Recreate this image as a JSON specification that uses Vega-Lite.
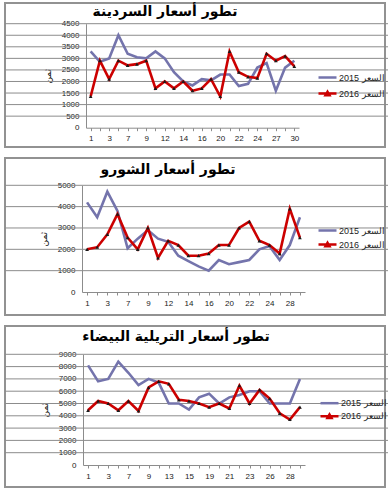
{
  "$schema": "https://vega.github.io/schema/vega-lite/v6.json",
  "padding": {"left": 3, "top": 2, "right": 3, "bottom": 3},
  "background": "white",
  "spacing": 11,
  "bounds": "flush",
  "datasets": {
    "sardine": [
      {"d":"1","s":"2015","p":3300},{"d":"2","s":"2015","p":2850},{"d":"3","s":"2015","p":3000},{"d":"6","s":"2015","p":4000},{"d":"7","s":"2015","p":3200},{"d":"8","s":"2015","p":3050},{"d":"9","s":"2015","p":3000},{"d":"10","s":"2015","p":3300},{"d":"12","s":"2015","p":3000},{"d":"13","s":"2015","p":2400},{"d":"14","s":"2015","p":2000},{"d":"15","s":"2015","p":1830},{"d":"16","s":"2015","p":2100},{"d":"17","s":"2015","p":2050},{"d":"20","s":"2015","p":2300},{"d":"21","s":"2015","p":2300},{"d":"22","s":"2015","p":1800},{"d":"23","s":"2015","p":1900},{"d":"24","s":"2015","p":2600},{"d":"26","s":"2015","p":2800},{"d":"27","s":"2015","p":1600},{"d":"29","s":"2015","p":2600},{"d":"30","s":"2015","p":2900},
      {"d":"1","s":"2016","p":1350},{"d":"2","s":"2016","p":2900},{"d":"3","s":"2016","p":2100},{"d":"6","s":"2016","p":2900},{"d":"7","s":"2016","p":2700},{"d":"8","s":"2016","p":2750},{"d":"9","s":"2016","p":2900},{"d":"10","s":"2016","p":1700},{"d":"12","s":"2016","p":2000},{"d":"13","s":"2016","p":1700},{"d":"14","s":"2016","p":2000},{"d":"15","s":"2016","p":1600},{"d":"16","s":"2016","p":1700},{"d":"17","s":"2016","p":2100},{"d":"20","s":"2016","p":1350},{"d":"21","s":"2016","p":3300},{"d":"22","s":"2016","p":2400},{"d":"23","s":"2016","p":2200},{"d":"24","s":"2016","p":2150},{"d":"26","s":"2016","p":3200},{"d":"27","s":"2016","p":2900},{"d":"29","s":"2016","p":3100},{"d":"30","s":"2016","p":2650}
    ],
    "chourou": [
      {"d":"1","s":"2015","p":4200},{"d":"2","s":"2015","p":3500},{"d":"3","s":"2015","p":4700},{"d":"6","s":"2015","p":3800},{"d":"7","s":"2015","p":2050},{"d":"8","s":"2015","p":2500},{"d":"9","s":"2015","p":2900},{"d":"10","s":"2015","p":2500},{"d":"12","s":"2015","p":2350},{"d":"13","s":"2015","p":1700},{"d":"14","s":"2015","p":1450},{"d":"15","s":"2015","p":1200},{"d":"16","s":"2015","p":1000},{"d":"17","s":"2015","p":1500},{"d":"20","s":"2015","p":1300},{"d":"21","s":"2015","p":1400},{"d":"22","s":"2015","p":1500},{"d":"23","s":"2015","p":2000},{"d":"24","s":"2015","p":2150},{"d":"26","s":"2015","p":1500},{"d":"28","s":"2015","p":2200},{"d":"29","s":"2015","p":3500},
      {"d":"1","s":"2016","p":2000},{"d":"2","s":"2016","p":2100},{"d":"3","s":"2016","p":2700},{"d":"6","s":"2016","p":3650},{"d":"7","s":"2016","p":2550},{"d":"8","s":"2016","p":2000},{"d":"9","s":"2016","p":3000},{"d":"10","s":"2016","p":1600},{"d":"12","s":"2016","p":2400},{"d":"13","s":"2016","p":2200},{"d":"14","s":"2016","p":1700},{"d":"15","s":"2016","p":1700},{"d":"16","s":"2016","p":1800},{"d":"17","s":"2016","p":2200},{"d":"20","s":"2016","p":2200},{"d":"21","s":"2016","p":3000},{"d":"22","s":"2016","p":3300},{"d":"23","s":"2016","p":2400},{"d":"24","s":"2016","p":2200},{"d":"26","s":"2016","p":1800},{"d":"28","s":"2016","p":3900},{"d":"29","s":"2016","p":2550}
    ],
    "bream": [
      {"d":"1","s":"2015","p":8100},{"d":"2","s":"2015","p":6800},{"d":"3","s":"2015","p":7000},{"d":"6","s":"2015","p":8400},{"d":"7","s":"2015","p":7500},{"d":"8","s":"2015","p":6500},{"d":"9","s":"2015","p":7000},{"d":"10","s":"2015","p":6700},{"d":"13","s":"2015","p":5000},{"d":"14","s":"2015","p":5000},{"d":"15","s":"2015","p":4500},{"d":"16","s":"2015","p":5500},{"d":"19","s":"2015","p":5800},{"d":"20","s":"2015","p":5000},{"d":"21","s":"2015","p":5500},{"d":"22","s":"2015","p":5700},{"d":"23","s":"2015","p":6000},{"d":"24","s":"2015","p":6000},{"d":"26","s":"2015","p":5000},{"d":"27","s":"2015","p":5000},{"d":"28","s":"2015","p":5000},{"d":"29","s":"2015","p":7000},
      {"d":"1","s":"2016","p":4450},{"d":"2","s":"2016","p":5200},{"d":"3","s":"2016","p":5000},{"d":"6","s":"2016","p":4450},{"d":"7","s":"2016","p":5200},{"d":"8","s":"2016","p":4400},{"d":"9","s":"2016","p":6300},{"d":"10","s":"2016","p":6800},{"d":"13","s":"2016","p":6600},{"d":"14","s":"2016","p":5300},{"d":"15","s":"2016","p":5200},{"d":"16","s":"2016","p":5000},{"d":"19","s":"2016","p":4700},{"d":"20","s":"2016","p":5000},{"d":"21","s":"2016","p":4600},{"d":"22","s":"2016","p":6450},{"d":"23","s":"2016","p":5000},{"d":"24","s":"2016","p":6100},{"d":"26","s":"2016","p":5400},{"d":"27","s":"2016","p":4200},{"d":"28","s":"2016","p":3700},{"d":"29","s":"2016","p":4700}
    ],
    "grid1": [{"p":500},{"p":1000},{"p":1500},{"p":2000},{"p":2500},{"p":3000},{"p":3500},{"p":4000},{"p":4500}],
    "grid2": [{"p":1000},{"p":2000},{"p":3000},{"p":4000},{"p":5000}],
    "grid3": [{"p":1000},{"p":2000},{"p":3000},{"p":4000},{"p":5000},{"p":6000},{"p":7000},{"p":8000},{"p":9000}]
  },
  "resolve": {"scale": {"x": "independent", "y": "independent", "color": "independent"}, "legend": {"color": "independent"}, "axis": {"x": "independent", "y": "independent"}},
  "vconcat": [
    {
      "width": 380, "height": 144,
      "title": {"text": "تطور أسعار السردينة", "offset": -16, "dx": -30, "frame": "group", "anchor": "middle"},
      "data": {"name": "sardine"},
      "encoding": {
        "y": {"field": "p", "type": "quantitative",
              "scale": {"domain": [0, 4500], "range": [124.7, 20.7], "nice": false},
              "axis": {"title": "ثمن", "offset": -81, "ticks": false, "labelPadding": 7, "grid": false, "labelOverlap": false, "format": "d",
                       "values": [0,500,1000,1500,2000,2500,3000,3500,4000,4500], "titlePadding": 9}}
      },
      "layer": [
        {
          "data": {"name": "grid1"},
          "mark": {"type": "rule", "color": "#8c8c8c", "strokeWidth": 1, "xOffset": 81, "x2Offset": -86},
          "encoding": {}
        },
        {
          "mark": {"type": "line", "strokeWidth": 2.6},
          "encoding": {
            "x": {"field": "d", "type": "ordinal", "sort": null,
                  "scale": {"type": "point", "padding": 0.5, "range": [81, 294],
                            "domain": ["1","2","3","6","7","8","9","10","12","13","14","15","16","17","20","21","22","23","24","26","27","29","30"]},
                  "axis": {"title": null, "offset": -19.3, "labelAngle": 0, "ticks": true, "tickSize": 3, "labelPadding": 4, "grid": false, "labelOverlap": false,
                           "labelExpr": "indexof(['1','3','7','9','12','14','16','20','22','24','27','30'], datum.value) >= 0 ? datum.label : ''"}},
            "color": {"field": "s", "type": "nominal",
                      "scale": {"domain": ["2015", "2016"], "range": ["#7474AC", "#CC0000"]},
                      "legend": {"orient": "none", "legendX": 316, "legendY": 68, "rowPadding": 3, "labelOffset": 5,
                                 "labelExpr": "'السعر ' + datum.label",
                                 "encode": {"symbols": {"update": {
                                   "shape": {"signal": "datum.value === '2016' ? 'M-1.8,0H1.8M-0.4,0.35L0,-0.35L0.4,0.35Z' : 'M-1.8,0H1.8'"},
                                   "fill": {"signal": "datum.value === '2016' ? '#1a1a1a' : 'transparent'"}}}}}}
          }
        },
        {
          "transform": [{"filter": "datum.s === '2016'"}],
          "mark": {"type": "point", "shape": "triangle-up", "filled": true, "color": "#1a1a1a", "size": 14, "opacity": 1},
          "encoding": {
            "x": {"field": "d", "type": "ordinal", "sort": null,
                  "scale": {"type": "point", "padding": 0.5, "range": [81, 294],
                            "domain": ["1","2","3","6","7","8","9","10","12","13","14","15","16","17","20","21","22","23","24","26","27","29","30"]},
                  "axis": {"title": null, "offset": -19.3, "labelAngle": 0, "ticks": true, "tickSize": 3, "labelPadding": 4, "grid": false, "labelOverlap": false,
                           "labelExpr": "indexof(['1','3','7','9','12','14','16','20','22','24','27','30'], datum.value) >= 0 ? datum.label : ''"}}
          }
        }
      ]
    },
    {
      "width": 380, "height": 157,
      "title": {"text": "تطور أسعار الشورو", "offset": -19, "dx": -27, "frame": "group", "anchor": "middle"},
      "data": {"name": "chourou"},
      "encoding": {
        "y": {"field": "p", "type": "quantitative",
              "scale": {"domain": [0, 5000], "range": [134, 27.3], "nice": false},
              "axis": {"title": "ثمن", "offset": -77, "ticks": false, "labelPadding": 7, "grid": false, "labelOverlap": false, "format": "d",
                       "values": [0,1000,2000,3000,4000,5000], "titlePadding": 9}}
      },
      "layer": [
        {
          "data": {"name": "grid2"},
          "mark": {"type": "rule", "color": "#8c8c8c", "strokeWidth": 1, "xOffset": 77, "x2Offset": -80},
          "encoding": {}
        },
        {
          "mark": {"type": "line", "strokeWidth": 2.6},
          "encoding": {
            "x": {"field": "d", "type": "ordinal", "sort": null,
                  "scale": {"type": "point", "padding": 0.5, "range": [77, 300],
                            "domain": ["1","2","3","6","7","8","9","10","12","13","14","15","16","17","20","21","22","23","24","26","28","29"]},
                  "axis": {"title": null, "offset": -23, "labelAngle": 0, "ticks": true, "tickSize": 3, "labelPadding": 4, "grid": false, "labelOverlap": false,
                           "labelExpr": "indexof(['1','3','7','9','12','14','16','20','22','24','28'], datum.value) >= 0 ? datum.label : ''"}},
            "color": {"field": "s", "type": "nominal",
                      "scale": {"domain": ["2015", "2016"], "range": ["#7474AC", "#CC0000"]},
                      "legend": {"orient": "none", "legendX": 316, "legendY": 66, "rowPadding": 1, "labelOffset": 5,
                                 "labelExpr": "'السعر ' + datum.label",
                                 "encode": {"symbols": {"update": {
                                   "shape": {"signal": "datum.value === '2016' ? 'M-1.8,0H1.8M-0.4,0.35L0,-0.35L0.4,0.35Z' : 'M-1.8,0H1.8'"},
                                   "fill": {"signal": "datum.value === '2016' ? '#1a1a1a' : 'transparent'"}}}}}}
          }
        },
        {
          "transform": [{"filter": "datum.s === '2016'"}],
          "mark": {"type": "point", "shape": "triangle-up", "filled": true, "color": "#1a1a1a", "size": 14, "opacity": 1},
          "encoding": {
            "x": {"field": "d", "type": "ordinal", "sort": null,
                  "scale": {"type": "point", "padding": 0.5, "range": [77, 300],
                            "domain": ["1","2","3","6","7","8","9","10","12","13","14","15","16","17","20","21","22","23","24","26","28","29"]},
                  "axis": {"title": null, "offset": -23, "labelAngle": 0, "ticks": true, "tickSize": 3, "labelPadding": 4, "grid": false, "labelOverlap": false,
                           "labelExpr": "indexof(['1','3','7','9','12','14','16','20','22','24','28'], datum.value) >= 0 ? datum.label : ''"}}
          }
        }
      ]
    },
    {
      "width": 380, "height": 161,
      "title": {"text": "تطور أسعار التريلية البيضاء", "offset": -18, "dx": -19, "frame": "group", "anchor": "middle"},
      "data": {"name": "bream"},
      "encoding": {
        "y": {"field": "p", "type": "quantitative",
              "scale": {"domain": [0, 9000], "range": [139, 28.3], "nice": false},
              "axis": {"title": "ثمن", "offset": -78, "ticks": false, "labelPadding": 7, "grid": false, "labelOverlap": false, "format": "d",
                       "values": [0,1000,2000,3000,4000,5000,6000,7000,8000,9000], "titlePadding": 9}}
      },
      "layer": [
        {
          "data": {"name": "grid3"},
          "mark": {"type": "rule", "color": "#8c8c8c", "strokeWidth": 1, "xOffset": 78, "x2Offset": -80},
          "encoding": {}
        },
        {
          "mark": {"type": "line", "strokeWidth": 2.6},
          "encoding": {
            "x": {"field": "d", "type": "ordinal", "sort": null,
                  "scale": {"type": "point", "padding": 0.5, "range": [78, 300],
                            "domain": ["1","2","3","6","7","8","9","10","13","14","15","16","19","20","21","22","23","24","26","27","28","29"]},
                  "axis": {"title": null, "offset": -22, "labelAngle": 0, "ticks": true, "tickSize": 3, "labelPadding": 4, "grid": false, "labelOverlap": false,
                           "labelExpr": "indexof(['1','3','7','9','13','15','19','21','23','26','28'], datum.value) >= 0 ? datum.label : ''"}},
            "color": {"field": "s", "type": "nominal",
                      "scale": {"domain": ["2015", "2016"], "range": ["#7474AC", "#CC0000"]},
                      "legend": {"orient": "none", "legendX": 318, "legendY": 70.7, "rowPadding": 0, "labelOffset": 5,
                                 "labelExpr": "'السعر ' + datum.label",
                                 "encode": {"symbols": {"update": {
                                   "shape": {"signal": "datum.value === '2016' ? 'M-1.8,0H1.8M-0.4,0.35L0,-0.35L0.4,0.35Z' : 'M-1.8,0H1.8'"},
                                   "fill": {"signal": "datum.value === '2016' ? '#1a1a1a' : 'transparent'"}}}}}}
          }
        },
        {
          "transform": [{"filter": "datum.s === '2016'"}],
          "mark": {"type": "point", "shape": "triangle-up", "filled": true, "color": "#1a1a1a", "size": 14, "opacity": 1},
          "encoding": {
            "x": {"field": "d", "type": "ordinal", "sort": null,
                  "scale": {"type": "point", "padding": 0.5, "range": [78, 300],
                            "domain": ["1","2","3","6","7","8","9","10","13","14","15","16","19","20","21","22","23","24","26","27","28","29"]},
                  "axis": {"title": null, "offset": -22, "labelAngle": 0, "ticks": true, "tickSize": 3, "labelPadding": 4, "grid": false, "labelOverlap": false,
                           "labelExpr": "indexof(['1','3','7','9','13','15','19','21','23','26','28'], datum.value) >= 0 ? datum.label : ''"}}
          }
        }
      ]
    }
  ],
  "config": {
    "view": {"stroke": "#929292", "strokeWidth": 2},
    "axis": {"domainColor": "#8c8c8c", "gridColor": "#8c8c8c", "tickColor": "#8c8c8c", "labelColor": "#222", "labelFont": "Liberation Sans", "labelFontSize": 8, "titleFont": "DejaVu Sans", "titleFontSize": 9, "titleFontWeight": "normal", "titleColor": "#111"},
    "title": {"font": "DejaVu Sans", "fontSize": 14, "fontWeight": "bold", "color": "#000", "anchor": "middle", "frame": "group"},
    "legend": {
      "title": null, "labelFont": "Liberation Sans", "labelFontSize": 9, "labelColor": "#222",
      "symbolSize": 100, "symbolStrokeWidth": 2.5
    }
  }
}
